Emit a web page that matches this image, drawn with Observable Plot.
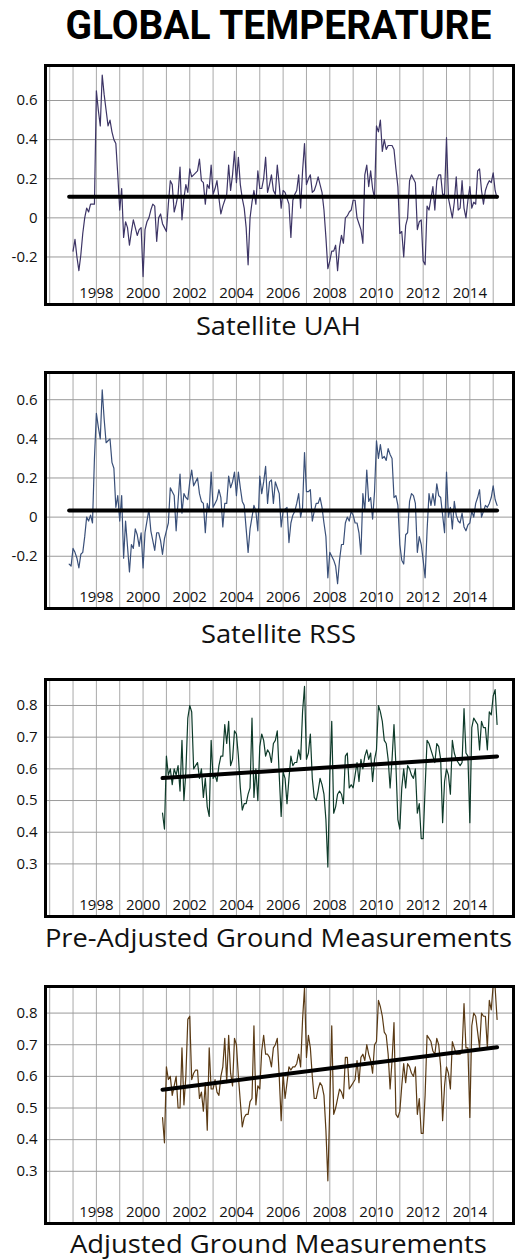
<!DOCTYPE html>
<html>
<head>
<meta charset="utf-8">
<script src="https://cdn.jsdelivr.net/npm/d3@7"></script>
<script src="https://cdn.jsdelivr.net/npm/@observablehq/plot@0.6"></script>
<style>
  html, body { margin: 0; padding: 0; background: #fff; }
  #root { position: relative; width: 520px; height: 1260px; overflow: hidden; background: #fff; }
  #root > svg { position: absolute; left: 0; }
</style>
</head>
<body>
<div id="root"></div>
<script>
// ---------------- DATA (monthly anomalies, °C) ----------------
const mainTitle = "GLOBAL TEMPERATURE";
const panelTitles = ["Satellite UAH", "Satellite RSS", "Pre-Adjusted Ground Measurements", "Adjusted Ground Measurements"];

const gridYears  = [1996, 1997, 1998, 1999, 2000, 2001, 2002, 2003, 2004, 2005, 2006, 2007, 2008, 2009, 2010, 2011, 2012, 2013, 2014, 2015];
const labelYears = [1998, 2000, 2002, 2004, 2006, 2008, 2010, 2012, 2014];
const satTicks    = [-0.2, 0, 0.2, 0.4, 0.6];
const groundTicks = [0.3, 0.4, 0.5, 0.6, 0.7, 0.8];

// UAH: Jan 1997 – Mar 2015
const uahStart = [1997, 1];
const uahValues = [
  -0.17, -0.11, -0.20, -0.27, -0.19, -0.08, 0.00, 0.05, 0.03, 0.07, 0.07, 0.07,
  0.65, 0.55, 0.47, 0.73, 0.63, 0.55, 0.47, 0.50, 0.44, 0.40, 0.38, 0.22,
  0.04, 0.15, -0.10, -0.02, -0.05, -0.14, -0.07, -0.01, -0.05, -0.09, -0.06, -0.05,
  -0.30, -0.06, -0.02, 0.00, 0.04, 0.07, 0.06, -0.12, 0.00, 0.02, -0.03, -0.05,
  -0.07, 0.07, 0.19, 0.17, 0.03, 0.07, 0.12, 0.26, -0.01, 0.10, 0.17, 0.13,
  0.25, 0.21, 0.22, 0.23, 0.24, 0.30, 0.19, 0.18, 0.07, 0.17, 0.15, 0.27,
  0.12, 0.15, 0.19, 0.10, 0.02, 0.06, 0.09, 0.12, 0.27, 0.14, 0.22, 0.34,
  0.18, 0.31, 0.17, 0.10, 0.05, -0.05, -0.24, 0.00, 0.08, 0.14, 0.07, 0.24,
  0.15, 0.15, 0.20, 0.31, 0.13, 0.17, 0.22, 0.14, 0.12, 0.27, 0.17, 0.05,
  0.14, 0.13, 0.10, 0.07, -0.10, 0.09, 0.12, 0.14, 0.22, 0.05, 0.24, 0.38,
  0.17, 0.20, 0.22, 0.13, 0.14, 0.17, 0.21, 0.17, 0.13, 0.04, -0.10, -0.26,
  -0.22, -0.17, -0.17, -0.14, -0.27, -0.15, -0.09, -0.13, 0.00, 0.01, 0.03, 0.04,
  0.09, 0.09, 0.00, -0.03, -0.06, -0.13, 0.22, 0.27, 0.16, 0.24, 0.15, 0.10,
  0.47, 0.44, 0.50, 0.34, 0.40, 0.35, 0.37, 0.37, 0.37, 0.35, 0.25, 0.16,
  -0.08, -0.07, -0.20, -0.04, 0.00, 0.19, 0.22, 0.20, 0.18, -0.06, -0.02, -0.01,
  -0.22, -0.24, 0.06, 0.04, 0.10, 0.16, 0.04, 0.19, 0.22, 0.22, 0.12, 0.12,
  0.41, 0.10, 0.05, 0.00, 0.08, 0.21, 0.04, 0.05, 0.19, 0.05, 0.00, 0.09,
  0.16, 0.05, 0.08, 0.07, 0.24, 0.25, 0.14, 0.07, 0.14, 0.17, 0.19, 0.18,
  0.23, 0.14, 0.10
];

// RSS: Nov 1996 – Mar 2015
const rssStart = [1996, 11];
const rssValues = [
  -0.24, -0.25,
  -0.16, -0.18, -0.21, -0.26, -0.19, -0.18, -0.10, 0.00, -0.02, 0.01, -0.03, 0.30,
  0.53, 0.46, 0.40, 0.65, 0.50, 0.38, 0.39, 0.40, 0.28, 0.25, 0.05, 0.11,
  -0.02, 0.11, -0.21, -0.02, -0.15, -0.28, -0.14, -0.16, -0.06, -0.09, -0.15, -0.08,
  -0.26, -0.08, -0.02, 0.04, -0.07, -0.12, -0.17, -0.08, -0.08, -0.12, -0.19, -0.11,
  -0.07, -0.03, 0.15, 0.13, 0.11, -0.07, 0.08, 0.22, 0.02, 0.12, 0.10, 0.09,
  0.18, 0.24, 0.16, 0.18, 0.20, 0.12, 0.08, 0.07, -0.08, 0.07, 0.03, 0.23,
  0.05, 0.07, 0.09, 0.14, 0.10, -0.05, 0.07, 0.07, 0.21, 0.15, 0.18, 0.23,
  0.11, 0.23, 0.15, 0.08, 0.06, -0.06, -0.18, -0.06, 0.00, 0.06, 0.03, -0.07,
  0.21, 0.12, 0.18, 0.26, 0.07, 0.18, 0.19, 0.07, 0.18, 0.15, 0.12, -0.05,
  0.03, 0.04, 0.05, -0.13, -0.03, 0.01, 0.03, 0.07, 0.12, 0.00, 0.05, 0.33,
  0.13, 0.13, 0.14, -0.02, 0.03, 0.07, 0.07, 0.10, 0.05, -0.03, -0.10, -0.31,
  -0.18, -0.20, -0.22, -0.25, -0.34, -0.22, -0.14, -0.14, -0.03, 0.00, -0.02, 0.03,
  0.01, -0.03, -0.03, -0.08, -0.19, 0.12, 0.03, 0.24, 0.08, 0.10, -0.01, 0.13,
  0.39, 0.30, 0.37, 0.30, 0.31, 0.29, 0.35, 0.32, 0.30, 0.10, 0.11, 0.06,
  -0.14, -0.22, -0.24, -0.09, -0.08, 0.08, 0.12, 0.11, 0.07, -0.18, -0.10, -0.14,
  -0.22, -0.31, -0.07, 0.12, 0.06, 0.12, 0.06, 0.17, 0.11, 0.10, 0.01, -0.08,
  0.23, 0.00, 0.05, -0.06, 0.08, 0.01, -0.02, -0.03, 0.02, -0.05, -0.07, -0.04,
  -0.03, 0.03, 0.00, 0.07, 0.10, 0.14, 0.00, 0.03, 0.06, 0.05, 0.07, 0.10,
  0.16, 0.09, 0.06
];

// Ground, pre-adjusted: Nov 2000 – Mar 2015
const groundStart = [2000, 11];
const preAdjValues = [
  0.46, 0.41,
  0.64, 0.58, 0.60, 0.55, 0.60, 0.58, 0.61, 0.53, 0.69, 0.50, 0.59, 0.76,
  0.80, 0.78, 0.60, 0.61, 0.62, 0.57, 0.60, 0.51, 0.57, 0.48, 0.45, 0.69,
  0.57, 0.58, 0.56, 0.61, 0.64, 0.64, 0.74, 0.68, 0.75, 0.61, 0.63, 0.72,
  0.71, 0.64, 0.54, 0.47, 0.49, 0.49, 0.52, 0.54, 0.76, 0.51, 0.60, 0.50,
  0.67, 0.71, 0.69, 0.64, 0.66, 0.65, 0.62, 0.68, 0.69, 0.72, 0.58, 0.45,
  0.59, 0.57, 0.49, 0.57, 0.64, 0.61, 0.62, 0.62, 0.66, 0.63, 0.78, 0.86,
  0.63, 0.65, 0.71, 0.57, 0.51, 0.50, 0.53, 0.57, 0.55, 0.52, 0.44, 0.29,
  0.58, 0.75, 0.46, 0.48, 0.52, 0.53, 0.52, 0.49, 0.64, 0.65, 0.54, 0.55,
  0.54, 0.58, 0.62, 0.56, 0.63, 0.60, 0.64, 0.66, 0.63, 0.65, 0.56, 0.63,
  0.66, 0.80, 0.78, 0.75, 0.69, 0.68, 0.63, 0.54, 0.63, 0.74, 0.61, 0.44,
  0.41, 0.54, 0.60, 0.54, 0.61, 0.60, 0.58, 0.57, 0.60, 0.46, 0.49, 0.38,
  0.38, 0.54, 0.69, 0.68, 0.66, 0.64, 0.62, 0.68, 0.67, 0.63, 0.43, 0.56,
  0.60, 0.58, 0.52, 0.69, 0.65, 0.63, 0.62, 0.61, 0.62, 0.79, 0.65, 0.64,
  0.43, 0.73, 0.76, 0.75, 0.74, 0.66, 0.75, 0.73, 0.73, 0.66, 0.78, 0.77,
  0.83, 0.85, 0.74
];

// Ground, adjusted: Nov 2000 – Mar 2015
const adjValues = [
  0.47, 0.39,
  0.63, 0.59, 0.60, 0.54, 0.57, 0.60, 0.50, 0.50, 0.69, 0.51, 0.60, 0.78,
  0.79, 0.59, 0.61, 0.62, 0.62, 0.53, 0.55, 0.49, 0.58, 0.43, 0.69, 0.56,
  0.56, 0.59, 0.55, 0.54, 0.60, 0.63, 0.72, 0.58, 0.73, 0.61, 0.57, 0.72,
  0.70, 0.60, 0.52, 0.44, 0.47, 0.48, 0.48, 0.52, 0.53, 0.76, 0.51, 0.57,
  0.56, 0.68, 0.73, 0.67, 0.67, 0.66, 0.63, 0.69, 0.70, 0.72, 0.60, 0.46,
  0.61, 0.53, 0.58, 0.63, 0.62, 0.63, 0.63, 0.64, 0.67, 0.63, 0.78, 0.88,
  0.66, 0.73, 0.69, 0.60, 0.53, 0.53, 0.56, 0.58, 0.57, 0.54, 0.43, 0.27,
  0.51, 0.76, 0.48, 0.50, 0.53, 0.56, 0.55, 0.53, 0.66, 0.66, 0.56, 0.57,
  0.58, 0.59, 0.65, 0.58, 0.66, 0.67, 0.65, 0.70, 0.67, 0.65, 0.61, 0.70,
  0.71, 0.84, 0.82, 0.79, 0.74, 0.73, 0.67, 0.56, 0.65, 0.77, 0.48, 0.47,
  0.49, 0.57, 0.64, 0.58, 0.64, 0.63, 0.61, 0.60, 0.63, 0.48, 0.53, 0.42,
  0.42, 0.54, 0.73, 0.72, 0.71, 0.68, 0.67, 0.72, 0.70, 0.63, 0.46, 0.57,
  0.63, 0.61, 0.56, 0.71, 0.69, 0.67, 0.67, 0.67, 0.68, 0.83, 0.69, 0.69,
  0.47, 0.76, 0.80, 0.79, 0.74, 0.69, 0.80, 0.79, 0.79, 0.69, 0.84, 0.81,
  0.89, 0.88, 0.78
];

// Linear trend lines: [start value, end value] and period [start, end] as [year, month]
const satTrendPeriod    = [[1996, 11], [2015, 3]];
const groundTrendPeriod = [[2000, 11], [2015, 3]];
const uahTrend = [0.108, 0.108];
const rssTrend = [0.034, 0.034];
const preAdjTrend = [0.571, 0.639];
const adjTrend = [0.558, 0.692];

const seriesColors = ["#3d3566", "#3a5079", "#0e3b2a", "#5a3a14"];

// ---------------- BUILD ----------------
const ym = ([y, m]) => y + (m - 1) / 12;
const toRows = (values, start) => values.map((v, i) => ({t: ym(start) + i / 12, v}));
const trendRows = (tr, period) => [{t: ym(period[0]), v: tr[0]}, {t: ym(period[1]), v: tr[1]}];
const fmt = d => d === 0 ? "0" : d.toFixed(1);

const panels = [
  {rows: toRows(uahValues, uahStart), trend: trendRows(uahTrend, satTrendPeriod), ticks: satTicks,
   yDomain: [-0.443, 0.779], top: 65, bottom: 304, color: seriesColors[0]},
  {rows: toRows(rssValues, rssStart), trend: trendRows(rssTrend, satTrendPeriod), ticks: satTicks,
   yDomain: [-0.467, 0.739], top: 372, bottom: 608, color: seriesColors[1]},
  {rows: toRows(preAdjValues, groundStart), trend: trendRows(preAdjTrend, groundTrendPeriod), ticks: groundTicks,
   yDomain: [0.134, 0.882], top: 679, bottom: 916, color: seriesColors[2]},
  {rows: toRows(adjValues, groundStart), trend: trendRows(adjTrend, groundTrendPeriod), ticks: groundTicks,
   yDomain: [0.135, 0.884], top: 986, bottom: 1223, color: seriesColors[3]}
];

const root = document.getElementById("root");
const xDomain = [1995.82, 2015.87];

panels.forEach(p => {
  const plot = Plot.plot({
    width: 520,
    height: p.bottom - p.top + 20,
    marginTop: 10, marginBottom: 10, marginLeft: 45, marginRight: 7,
    x: {domain: xDomain, axis: null},
    y: {domain: p.yDomain, axis: null},
    style: {fontFamily: "'Open Sans', sans-serif", fontSize: "15px", color: "#111", background: "transparent"},
    marks: [
      Plot.ruleX(gridYears, {stroke: "#a9a9a9", strokeWidth: 1}),
      Plot.ruleY(p.ticks, {stroke: "#9a9a9a", strokeWidth: 1}),
      Plot.text(labelYears, {x: d => d, text: d => String(d), frameAnchor: "bottom", lineAnchor: "bottom", dy: -6.5, fontSize: 15, fill: "#111"}),
      Plot.axisY(p.ticks, {tickSize: 0, tickPadding: 8, tickFormat: fmt, fontSize: 15, fill: "#111", label: null}),
      Plot.line(p.rows, {x: "t", y: "v", stroke: p.color, strokeWidth: 1.2, clip: true}),
      Plot.line(p.trend, {x: "t", y: "v", stroke: "#000", strokeWidth: 4, strokeLinecap: "round"}),
      Plot.frame({stroke: "#000", strokeWidth: 3})
    ]
  });
  plot.style.top = (p.top - 10) + "px";
  root.appendChild(plot);
});

// Titles (main title and the caption under each panel)
const titleSvg = d3.create("svg").attr("width", 520).attr("height", 1260)
  .style("position", "absolute").style("left", "0px").style("top", "0px");
titleSvg.append("text").attr("x", 278.4).attr("y", 38.8).attr("text-anchor", "middle")
  .attr("font-family", "Roboto, 'Open Sans', sans-serif")
  .attr("font-size", 41.5).attr("font-weight", 700).attr("fill", "#000")
  .attr("textLength", 426).attr("lengthAdjust", "spacingAndGlyphs").text(mainTitle);
const capBaselines = [334.8, 642.7, 947, 1253];
const capWidths = [165, 155, 467, 417];
panelTitles.forEach((t, i) => {
  titleSvg.append("text").attr("x", 278.4).attr("y", capBaselines[i]).attr("text-anchor", "middle")
    .attr("font-family", "'Open Sans', sans-serif")
    .attr("font-size", 26).attr("fill", "#111")
    .attr("textLength", capWidths[i]).attr("lengthAdjust", "spacingAndGlyphs").text(t);
});
root.appendChild(titleSvg.node());
</script>
</body>
</html>
